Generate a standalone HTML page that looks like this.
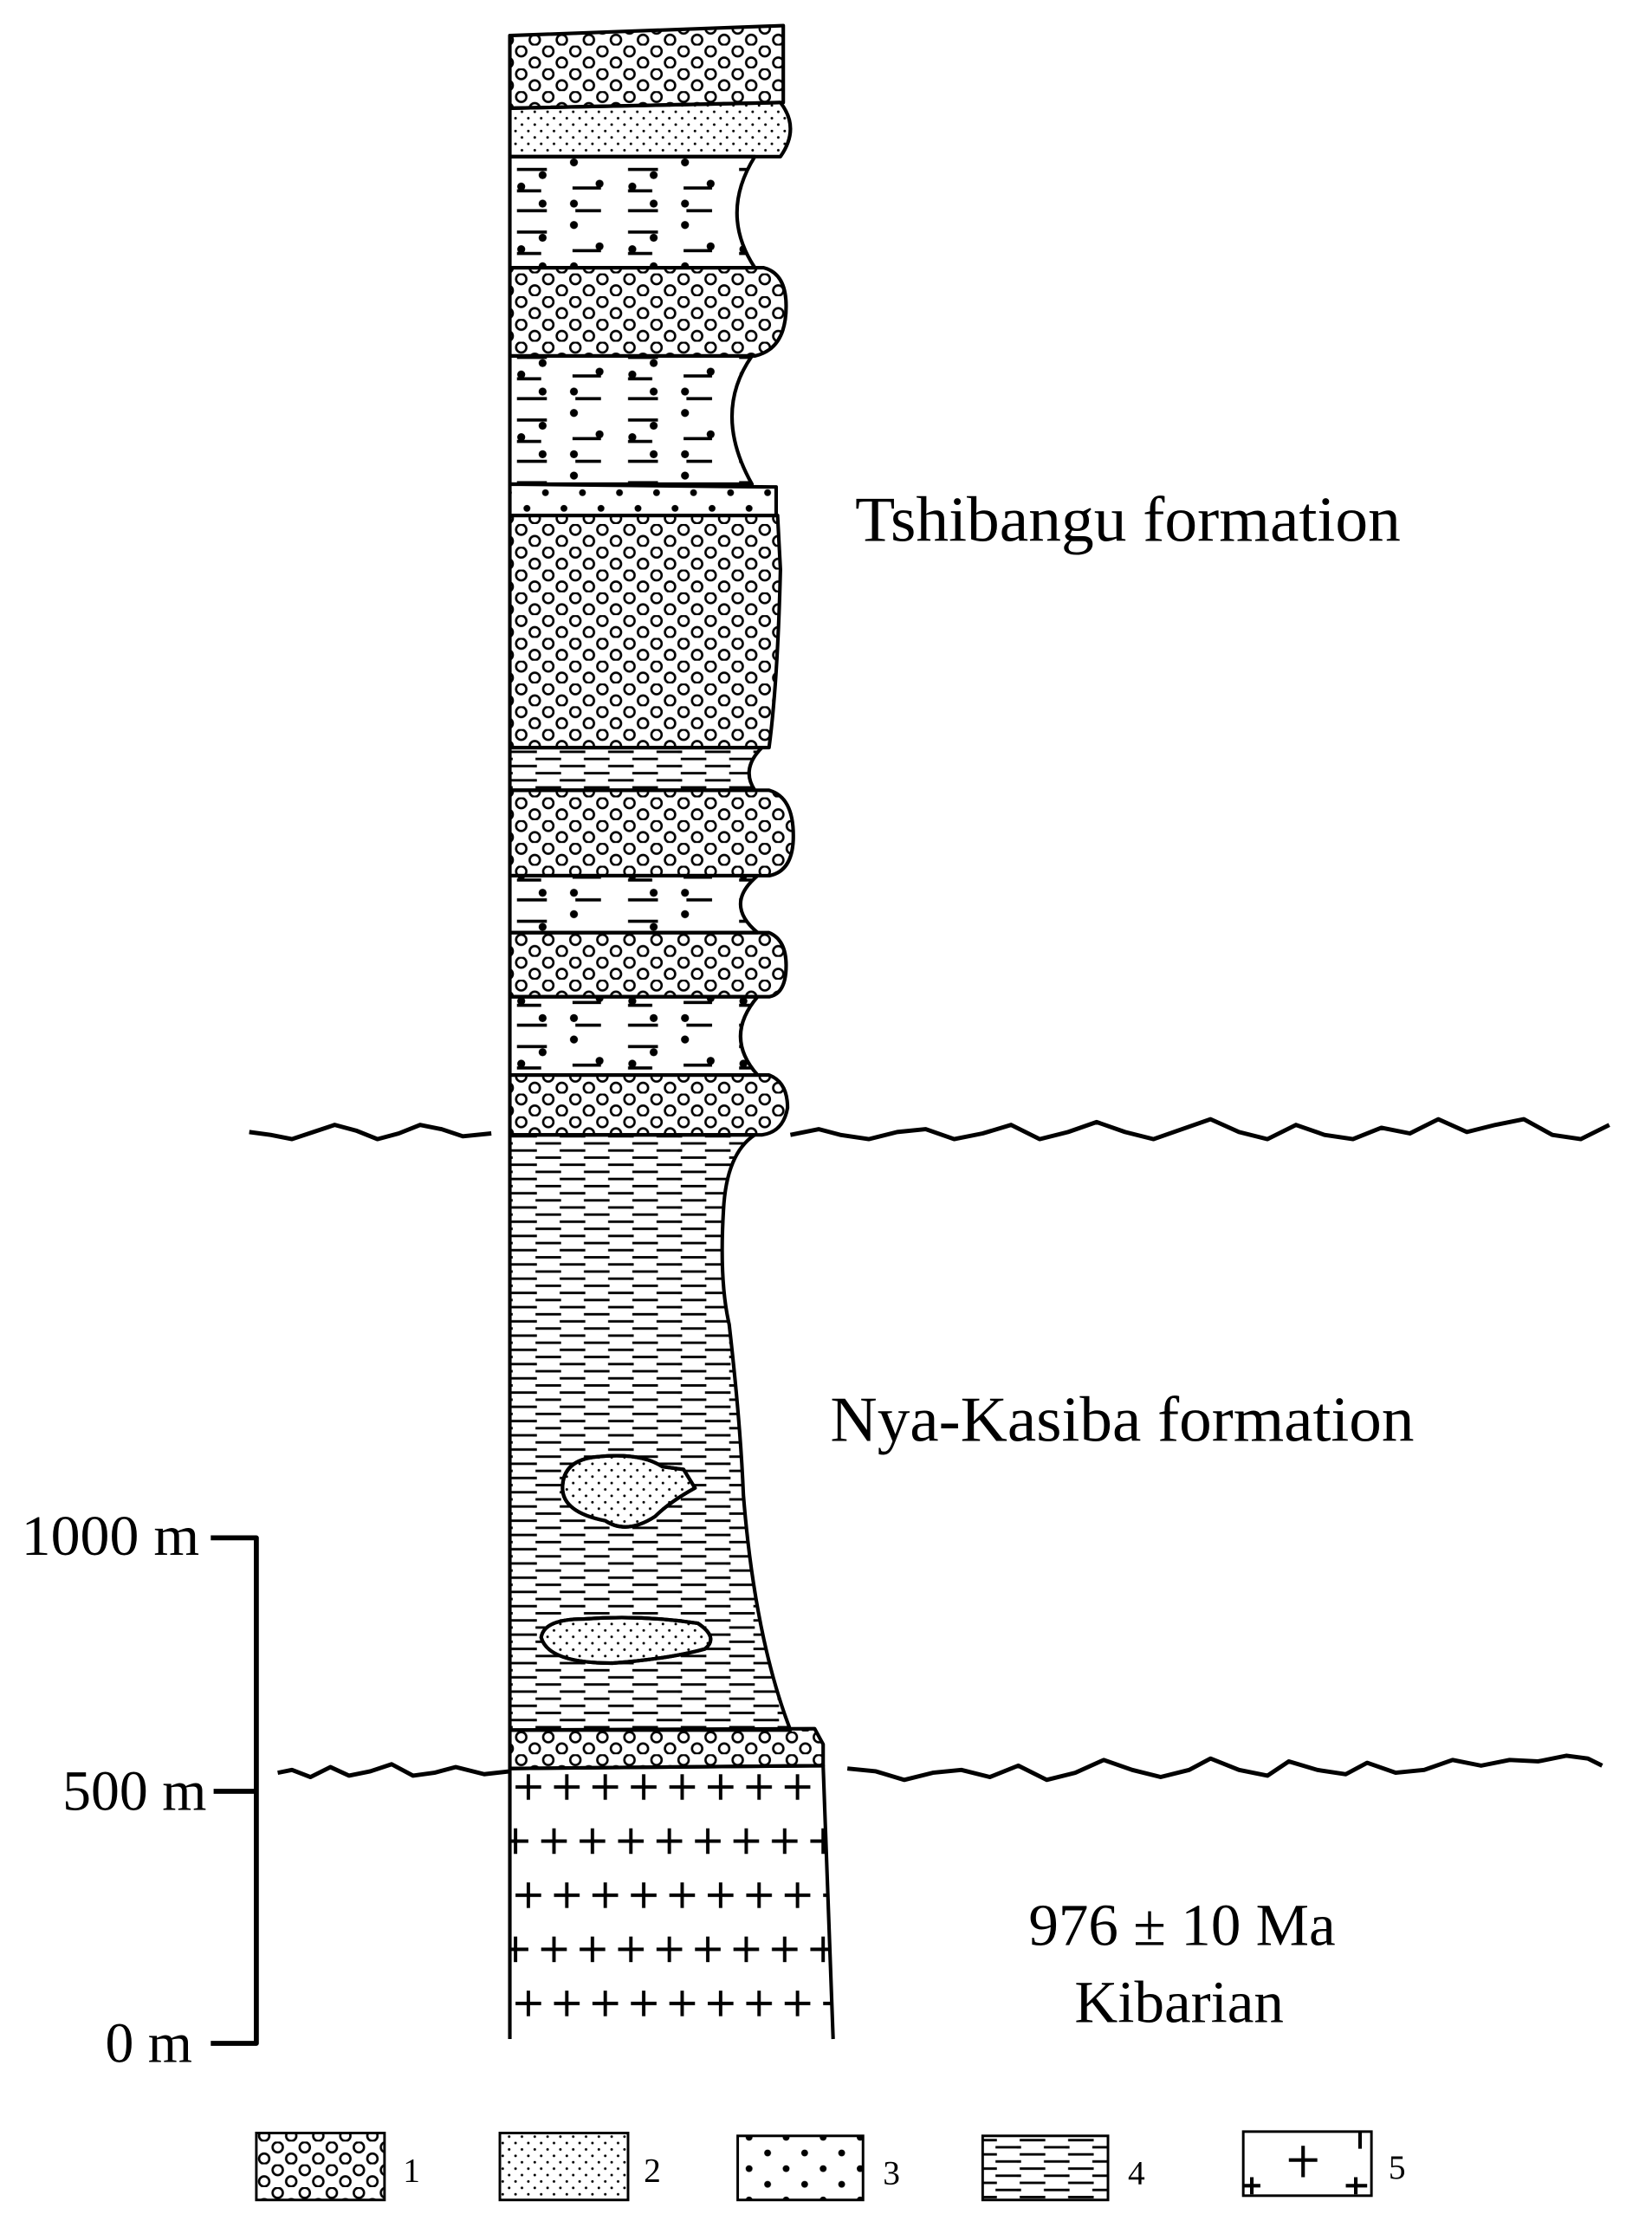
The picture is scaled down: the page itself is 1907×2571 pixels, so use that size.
<!DOCTYPE html>
<html><head><meta charset="utf-8"><style>html,body{margin:0;padding:0;background:#fff}svg{display:block}</style></head>
<body>
<svg width="1907" height="2571" viewBox="0 0 1160 1564" preserveAspectRatio="none" xmlns="http://www.w3.org/2000/svg">
<defs>
<pattern id="cg" width="19" height="16" patternUnits="userSpaceOnUse">
<circle cx="5" cy="4" r="3.6" fill="none" stroke="#000" stroke-width="1.6"/>
<circle cx="14.5" cy="12" r="3.6" fill="none" stroke="#000" stroke-width="1.6"/>
</pattern>
<pattern id="sd" width="9" height="9" patternUnits="userSpaceOnUse">
<circle cx="2" cy="2" r="0.9" fill="#000"/><circle cx="6.5" cy="6.5" r="0.9" fill="#000"/>
</pattern>
<pattern id="mx" width="78" height="44" patternUnits="userSpaceOnUse" x="358" y="110">
<line x1="5" y1="9" x2="26" y2="9" stroke="#000" stroke-width="2.2"/>
<circle cx="23" cy="13" r="2.8"/><circle cx="45" cy="4" r="2.8"/>
<line x1="44" y1="22" x2="64" y2="22" stroke="#000" stroke-width="2.2"/><circle cx="63" cy="19" r="2.8"/>
<line x1="5" y1="24" x2="22" y2="24" stroke="#000" stroke-width="2.2"/><circle cx="8" cy="21" r="2.8"/>
<circle cx="23" cy="33" r="2.8"/><circle cx="45" cy="33" r="2.8"/>
<line x1="46" y1="38" x2="64" y2="38" stroke="#000" stroke-width="2.2"/>
<line x1="5" y1="38" x2="26" y2="38" stroke="#000" stroke-width="2.2"/>
</pattern>
<pattern id="pb" width="26" height="22" patternUnits="userSpaceOnUse">
<circle cx="6" cy="5" r="2.4"/><circle cx="19" cy="16" r="2.4"/>
</pattern>
<pattern id="sh" width="34" height="10" patternUnits="userSpaceOnUse">
<line x1="2" y1="3" x2="20" y2="3" stroke="#000" stroke-width="1.8"/>
<line x1="19" y1="8" x2="34" y2="8" stroke="#000" stroke-width="1.8"/>
<line x1="0" y1="8" x2="3" y2="8" stroke="#000" stroke-width="1.8"/>
</pattern>
<pattern id="gr" width="54" height="76" patternUnits="userSpaceOnUse" x="358" y="1242">
<path d="M4 13h18M13 4v18M31 13h18M40 4v18M-5 51h18M4 42v18M22 51h18M31 42v18M49 51h18M58 42v18" stroke="#000" stroke-width="2.4" fill="none"/>
</pattern>
</defs>
<g stroke="#000" stroke-width="2.5" stroke-linejoin="round">
<path d="M358 25 L550 18 L550 72 L358 76Z" fill="url(#cg)"/>
<path d="M358 76 L548 72 Q562 90 548 110 L358 110Z" fill="url(#sd)"/>
<path d="M358 110 L530 110 Q505 150 530 188 L358 188Z" fill="url(#mx)"/>
<path d="M358 188 L536 188 Q552 192 552 215 Q552 245 530 250 L358 250Z" fill="url(#cg)"/>
<path d="M358 250 L528 250 Q500 290 528 340 L358 340Z" fill="url(#mx)"/>
<path d="M358 340 L545 342 L545 362 L358 362Z" fill="url(#pb)"/>
<path d="M358 362 L546 362 L548 400 Q546 480 540 525 L358 525Z" fill="url(#cg)"/>
<path d="M358 525 L535 525 Q520 540 530 555 L358 555Z" fill="url(#sh)"/>
<path d="M358 555 L540 555 Q558 560 557 590 Q556 612 540 615 L358 615Z" fill="url(#cg)"/>
<path d="M358 615 L532 615 Q508 635 532 655 L358 655Z" fill="url(#mx)"/>
<path d="M358 655 L540 655 Q552 660 552 678 Q552 698 540 700 L358 700Z" fill="url(#cg)"/>
<path d="M358 700 L532 700 Q508 728 532 755 L358 755Z" fill="url(#mx)"/>
<path d="M358 755 L540 755 Q553 760 553 778 Q550 795 535 797 L358 797Z" fill="url(#cg)"/>
<path d="M358 797 L530 797 Q510 810 508 850 Q505 900 512 930 Q520 1000 522 1050 Q530 1150 555 1215 L358 1215Z" fill="url(#sh)"/>
<path d="M395 1045 Q395 1025 420 1023 Q450 1020 465 1030 L480 1032 L488 1045 Q470 1055 460 1065 Q440 1078 425 1068 Q395 1062 395 1045Z" fill="#fff"/>
<path d="M395 1045 Q395 1025 420 1023 Q450 1020 465 1030 L480 1032 L488 1045 Q470 1055 460 1065 Q440 1078 425 1068 Q395 1062 395 1045Z" fill="url(#sd)"/>
<path d="M380 1150 Q382 1137 410 1137 Q450 1134 490 1140 Q505 1150 495 1158 Q470 1165 430 1168 Q385 1168 380 1150Z" fill="#fff"/>
<path d="M380 1150 Q382 1137 410 1137 Q450 1134 490 1140 Q505 1150 495 1158 Q470 1165 430 1168 Q385 1168 380 1150Z" fill="url(#sd)"/>
<path d="M358 1215 L572 1214 L578 1225 L578 1240 L358 1242Z" fill="url(#cg)"/>
<path d="M358 1242 L578 1240 L585 1432 L358 1432Z" fill="url(#gr)" stroke="none"/>
<path d="M358 1242 L578 1240 L585 1432 M358 1242 L358 1432" fill="none"/>
</g>
<g fill="none" stroke="#000" stroke-width="3" stroke-linejoin="round">
<polyline points="175,795 190,797 205,800 220,795 235,790 250,794 265,800 280,796 295,790 310,793 325,798 345,796"/>
<polyline points="555,797 575,793 590,797 610,800 630,795 650,793 670,800 690,796 710,790 730,800 750,795 770,788 790,795 810,800 830,793 850,786 870,795 890,800 910,790 930,797 950,800 970,792 990,796 1010,786 1030,795 1050,790 1070,786 1090,797 1110,800 1130,790"/>
<polyline points="195,1245 205,1243 218,1248 232,1241 245,1247 260,1244 275,1239 290,1247 305,1245 320,1241 340,1246 358,1244"/>
<polyline points="595,1242 615,1244 635,1250 655,1245 675,1243 695,1248 715,1240 735,1250 755,1245 775,1236 795,1243 815,1248 835,1243 850,1235 870,1243 890,1247 905,1237 925,1243 945,1246 960,1238 980,1245 1000,1243 1020,1236 1040,1240 1060,1236 1080,1237 1100,1233 1115,1235 1125,1240"/>
<path d="M148 1080 L180 1080 L180 1435 L148 1435 M150 1258 L180 1258" stroke-width="3.5"/>
</g>
<g font-family="Liberation Serif, serif" fill="#000">
<text x="792" y="380" font-size="45" text-anchor="middle" textLength="383" lengthAdjust="spacingAndGlyphs">Tshibangu formation</text>
<text x="788" y="1012" font-size="45" text-anchor="middle" textLength="410" lengthAdjust="spacingAndGlyphs">Nya-Kasiba formation</text>
<text x="830" y="1366" font-size="42" text-anchor="middle">976 ± 10 Ma</text>
<text x="828" y="1420" font-size="42" text-anchor="middle">Kibarian</text>
<text x="140" y="1092" font-size="40" text-anchor="end" textLength="125" lengthAdjust="spacingAndGlyphs">1000 m</text>
<text x="145" y="1271" font-size="40" text-anchor="end">500 m</text>
<text x="135" y="1448" font-size="40" text-anchor="end">0 m</text>
<g font-size="24"><text x="283" y="1532">1</text><text x="452" y="1532">2</text><text x="620" y="1534">3</text><text x="792" y="1534">4</text><text x="975" y="1530">5</text></g>
</g>
<g stroke="#000" stroke-width="1.8">
<rect x="180" y="1498" width="90" height="47" fill="url(#cg)"/>
<rect x="351" y="1498" width="90" height="47" fill="url(#sd)"/>
<rect x="518" y="1500" width="88" height="45" fill="url(#pb)"/>
<rect x="690" y="1500" width="88" height="45" fill="url(#sh)"/>
<rect x="873" y="1497" width="90" height="45" fill="#fff"/>
<path d="M905 1517h20M915 1507v22M873 1535h12M879 1529v12M945 1535h15M952 1529v12M955 1497v12" fill="none" stroke-width="2.5"/>
</g>
</svg>
</body></html>
